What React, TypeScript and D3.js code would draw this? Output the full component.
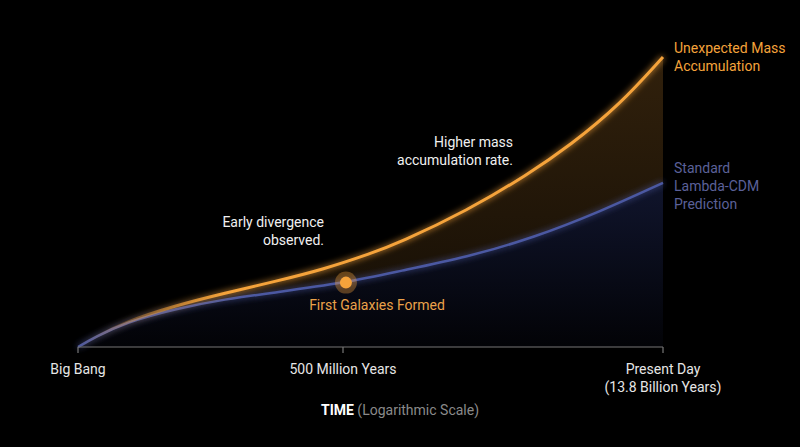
import React from "react";
import * as d3 from "d3";

// normalized time position (0 = Big Bang, 1 = present) and relative mass
const standardT = [0, 0.029, 0.08, 0.166, 0.251, 0.337, 0.458, 0.55, 0.665, 0.778, 0.892, 1];
const standardM = [0, 0.034, 0.084, 0.132, 0.165, 0.188, 0.222, 0.262, 0.31, 0.376, 0.466, 0.566];
const observedT = [0, 0.029, 0.08, 0.166, 0.251, 0.337, 0.42, 0.5, 0.55, 0.665, 0.769, 0.841, 0.926, 1];
const observedM = [0, 0.034, 0.086, 0.143, 0.186, 0.226, 0.268, 0.322, 0.36, 0.47, 0.595, 0.695, 0.835, 1];
const tickPos = [0, 0.453, 1];
const tickLabels = [["Big Bang"], ["500 Million Years"], ["Present Day", "(13.8 Billion Years)"]];
const milestoneT = 0.458;
const milestoneM = 0.222;

const W = 800;
const H = 447;
const ORANGE = "#f5a33b";
const BLUE = "#4b59a2";
const FONT = "Roboto, 'Noto Sans', sans-serif";

export default function App() {
  const x = d3.scaleLinear().domain([0, 1]).range([78, 663]);
  const y = d3.scaleLinear().domain([0, 1]).range([347, 57]);

  const std = standardT.map((t, i) => [t, standardM[i]] as [number, number]);
  const obs = observedT.map((t, i) => [t, observedM[i]] as [number, number]);

  const interpStd = (t: number) => {
    for (let i = 1; i < standardT.length; i++) {
      if (t <= standardT[i]) {
        const a = standardT[i - 1], b = standardT[i];
        return standardM[i - 1] + ((t - a) / (b - a)) * (standardM[i] - standardM[i - 1]);
      }
    }
    return standardM[standardM.length - 1];
  };

  const curve = d3.curveBasis;
  const line = d3.line<[number, number]>().x(d => x(d[0])).y(d => y(d[1])).curve(curve);
  const areaStd = d3.area<[number, number]>().x(d => x(d[0])).y0(y(0)).y1(d => y(d[1])).curve(curve);
  const areaObs = d3
    .area<[number, number]>()
    .x(d => x(d[0]))
    .y0(d => y(interpStd(d[0])))
    .y1(d => y(d[1]))
    .curve(curve);

  return (
    <svg width={W} height={H} style={{ position: "absolute", left: 0, top: 0, background: "#000" }} fontFamily={FONT}>
      <defs>
        <linearGradient id="gOrange" x1="0" y1="0" x2="0" y2="1">
          <stop offset="0%" stopColor={ORANGE} stopOpacity={0.2} />
          <stop offset="100%" stopColor={ORANGE} stopOpacity={0.08} />
        </linearGradient>
        <linearGradient id="gBlue" x1="0" y1="0" x2="0" y2="1">
          <stop offset="0%" stopColor="#3a4aa0" stopOpacity={0.28} />
          <stop offset="100%" stopColor="#3a4aa0" stopOpacity={0.04} />
        </linearGradient>
        <linearGradient id="gOrangeStroke" gradientUnits="userSpaceOnUse" x1={x(0)} y1={0} x2={x(1)} y2={0}>
          <stop offset="0%" stopColor={ORANGE} stopOpacity={0} />
          <stop offset="12%" stopColor={ORANGE} stopOpacity={0.45} />
          <stop offset="25%" stopColor={ORANGE} stopOpacity={1} />
          <stop offset="100%" stopColor={ORANGE} stopOpacity={1} />
        </linearGradient>
        <filter id="glow" x="-20%" y="-20%" width="140%" height="140%">
          <feGaussianBlur stdDeviation="3" result="b" />
          <feMerge>
            <feMergeNode in="b" />
            <feMergeNode in="SourceGraphic" />
          </feMerge>
        </filter>
      </defs>
      <rect width={W} height={H} fill="#000" />
      <path d={areaStd(std) || ""} fill="url(#gBlue)" />
      <path d={areaObs(obs) || ""} fill="url(#gOrange)" />
      <path d={line(std) || ""} fill="none" stroke={BLUE} strokeWidth={2.5} filter="url(#glow)" />
      <path d={line(obs) || ""} fill="none" stroke="url(#gOrangeStroke)" strokeWidth={3} filter="url(#glow)" />

      {/* axis */}
      <line x1={x(0)} x2={x(1)} y1={y(0)} y2={y(0)} stroke="#777" strokeWidth={1.2} />
      {tickPos.map((t, i) => (
        <g key={i}>
          <line x1={x(t)} x2={x(t)} y1={y(0)} y2={y(0) + 6} stroke="#777" strokeWidth={1.2} />
          {tickLabels[i].map((s, j) => (
            <text key={j} x={x(t)} y={374 + j * 18} textAnchor="middle" fill="#e6e6e6" fontSize={14}>
              {s}
            </text>
          ))}
        </g>
      ))}
      <text x={400} y={415} textAnchor="middle" fontSize={14}>
        <tspan fill="#ffffff" fontWeight="bold">TIME</tspan>
        <tspan fill="#8a8a8a"> (Logarithmic Scale)</tspan>
      </text>

      {/* milestone */}
      <circle cx={x(milestoneT)} cy={y(milestoneM)} r={11} fill={ORANGE} fillOpacity={0.35} />
      <circle cx={x(milestoneT)} cy={y(milestoneM)} r={6} fill={ORANGE} />
      <text x={377} y={310} textAnchor="middle" fill="#eba24a" fontSize={14}>
        First Galaxies Formed
      </text>

      {/* annotations */}
      <text x={513} y={147} textAnchor="end" fill="#f0f0f0" fontSize={14}>
        <tspan x={513} dy={0}>Higher mass</tspan>
        <tspan x={513} dy={18}>accumulation rate.</tspan>
      </text>
      <text x={324} y={227} textAnchor="end" fill="#f0f0f0" fontSize={14}>
        <tspan x={324} dy={0}>Early divergence</tspan>
        <tspan x={324} dy={18}>observed.</tspan>
      </text>

      {/* series labels */}
      <text x={674} y={53} fill={ORANGE} fontSize={14}>
        <tspan x={674} dy={0}>Unexpected Mass</tspan>
        <tspan x={674} dy={18}>Accumulation</tspan>
      </text>
      <text x={674} y={173} fill="#5b6199" fontSize={14}>
        <tspan x={674} dy={0}>Standard</tspan>
        <tspan x={674} dy={18}>Lambda-CDM</tspan>
        <tspan x={674} dy={18}>Prediction</tspan>
      </text>
    </svg>
  );
}
